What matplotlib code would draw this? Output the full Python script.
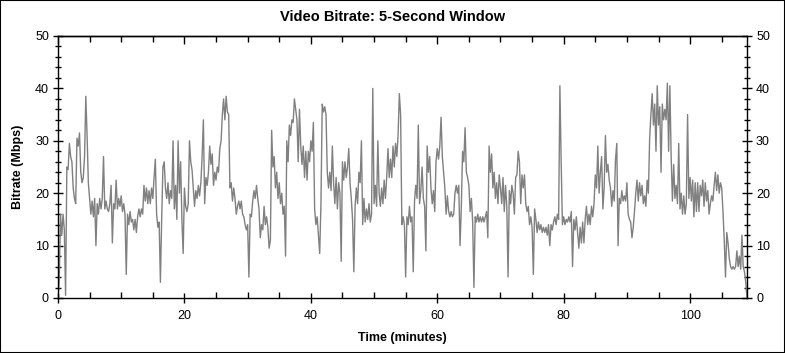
import numpy as np
import matplotlib
matplotlib.use("Agg")
import matplotlib.pyplot as plt
from matplotlib.patches import Rectangle
from matplotlib.ticker import MultipleLocator

plt.rcParams['font.family'] = ['Liberation Sans', 'DejaVu Sans']

title = "Video Bitrate: 5-Second Window"
x_label = "Time (minutes)"
y_label = "Bitrate (Mbps)"
sample_step_min = 0.2
duration_min = 109
x_ticks = [0, 20, 40, 60, 80, 100]
y_ticks = [0, 10, 20, 30, 40, 50]

# bitrate (Mbps), one value every 0.2 minutes
bitrate = [
    0, 3.5, 16, 12, 16,
    13, 0.5, 25, 24.5, 29.5,
    27, 26, 21, 19, 18,
    30.5, 29, 31.5, 24, 22,
    23, 27, 38.5, 31, 22,
    19, 16, 18.5, 15.5, 19,
    10, 18, 16, 19, 17,
    19, 27, 17, 18.5, 17,
    16.5, 18, 21.5, 10.5, 18,
    17, 22.5, 17, 19, 17.5,
    19.5, 16.5, 18, 16, 4.5,
    16, 14, 16.5, 14.5, 15,
    13, 15, 12.5, 15.5, 17,
    15.5, 17, 16, 21.5, 18.5,
    21, 18, 20.5, 18, 21,
    19, 23, 26.5, 16, 13.5,
    14.5, 3, 15, 25, 26,
    21, 19, 22, 18, 20.5,
    19, 30, 17, 21.5, 15,
    30, 20, 26, 15, 8.5,
    21, 17.5, 16.5, 18, 30,
    26, 24.5, 21, 17.5, 20.5,
    19, 21.5, 19.5, 22, 27,
    34, 18, 23, 21.5, 24,
    29, 25.5, 27.5, 21.5, 24,
    22.5, 25, 24, 28.5, 30,
    35, 38, 34, 38.5, 35.5,
    35, 21, 22, 18.5, 21,
    19, 16, 17.5, 18.5, 17,
    18.5, 16, 15.5, 14, 13,
    14, 4, 16, 15.5, 18.5,
    20.5, 19, 21.5, 19, 17,
    11.5, 14, 13, 17.5, 14,
    15.5, 13.5, 9.5, 11, 32,
    25, 27, 21, 24, 19,
    22, 18, 20, 16, 17.5,
    8, 30, 26, 33, 31,
    34, 33.5, 38, 36, 34,
    26, 36, 29, 25.5, 29,
    23, 28, 22.5, 28, 26,
    30, 28, 33.5, 17, 14,
    15.5, 12, 8.5, 18, 37,
    35.5, 36.5, 35, 24, 21,
    24, 20.5, 29, 22, 18,
    23, 17, 22, 20, 7,
    26, 22.5, 26, 23, 25,
    28.5, 22, 19, 15, 5,
    17.5, 21, 18, 24, 22,
    30, 14, 19, 14.5, 17,
    15, 18, 14.5, 16, 40,
    18, 21.5, 17.5, 30, 20,
    17.5, 21, 18, 22.5, 19,
    23, 28.5, 23, 26.5, 23,
    29, 25, 29.5, 27, 31,
    39, 35, 14, 15.5, 14,
    4, 15.5, 14, 17.5, 14.5,
    15.5, 5, 18.5, 21.5, 19,
    33, 18, 20.5, 25, 19,
    17.5, 9, 29, 24, 27,
    21, 18, 20.5, 16.5, 26,
    28.5, 26.5, 29, 34.5, 27,
    24, 21, 16, 19.5, 16.5,
    15.5, 16.5, 15.5, 16, 20,
    21.5, 20, 21.5, 10, 17,
    28, 26, 32.5, 24, 23,
    21.5, 16.5, 19, 14.5, 2,
    15.5, 14.5, 16, 14.5, 15.5,
    14.5, 15.5, 14.5, 15.5, 16.5,
    11.5, 29, 24, 27.5, 21,
    24, 19, 22, 18, 23.5,
    21, 18, 23, 16.5, 21.5,
    17.5, 4, 20.5, 18, 21.5,
    20, 16, 23, 23.5, 28,
    26, 18, 23.5, 21, 23.5,
    18, 16.5, 17.5, 14, 15.5,
    13.5, 4.5, 17, 15, 12.5,
    14.5, 13, 14, 12.5, 13.5,
    12.5, 13.5, 12, 14, 10,
    14, 13, 14.5, 15.5, 14,
    16, 15, 40.5, 26, 14,
    15.5, 14, 15, 14.5, 15.5,
    14.5, 16.5, 6, 15, 13,
    15.5, 12.5, 9.5, 13.5, 10.5,
    14.5, 10.5, 15, 17.5, 14,
    16, 14, 17.5, 15.5, 18,
    23.5, 21, 29, 20, 24,
    27, 17, 21, 31, 24,
    25.5, 22.5, 21, 17.5, 20.5,
    18.5, 26.5, 29.5, 10, 19,
    18, 20.5, 18.5, 19.5, 18.5,
    22, 16, 15, 14.5, 11.5,
    13.5, 16.5, 20, 22.5, 18.5,
    22, 19.5, 21.5, 18, 19.5,
    17.5, 22.5, 20, 30.5, 35,
    39, 33, 37, 28, 40.5,
    33, 36.5, 24, 37, 34,
    36, 34, 41, 28, 40.5,
    27, 18.5, 25.5, 19, 21.5,
    18, 29.5, 17, 20, 16,
    19.5, 16, 18, 35, 19,
    23, 18.5, 22.5, 15.5, 22,
    16.5, 22, 16.5, 21.5, 19.5,
    22.5, 17.5, 22, 18.5, 20.5,
    16, 18, 19.5, 18.5, 21.5,
    24, 20.5, 23.5, 20, 22,
    21, 16.5, 11, 4, 12.5,
    10.5, 7.5, 6, 5.5, 6,
    5.5, 6, 9, 6, 8,
    5.5, 12, 6, 5, 3,
    0,
]

time_min = np.arange(len(bitrate)) * sample_step_min

fig = plt.figure(figsize=(7.85, 3.53), dpi=100)
fig.patch.set_facecolor('white')
ax = fig.add_axes([58/785, 1 - 298/353, (747 - 58)/785, (298 - 36)/353])

ax.plot(time_min, bitrate, color='#808080', lw=1.0)

ax.set_xlim(0, duration_min)
ax.set_ylim(0, 50)
ax.set_xticks(x_ticks)
ax.set_yticks(y_ticks)
ax.xaxis.set_minor_locator(MultipleLocator(5))
ax.yaxis.set_minor_locator(MultipleLocator(2))

for s in ax.spines.values():
    s.set_linewidth(1.0)
    s.set_color('black')

ax.tick_params(axis='x', which='major', direction='inout', length=7, width=1,
               labelsize=9, pad=5, top=False)
ax.tick_params(axis='x', which='minor', direction='in', length=4, width=1, top=False)
ax.tick_params(axis='y', which='major', direction='inout', length=7, width=1,
               labelsize=9, right=True, labelright=True, pad=3)
ax.tick_params(axis='y', which='minor', direction='inout', length=5, width=1, right=True)

top = ax.secondary_xaxis('top')
top.set_xticks(x_ticks)
top.xaxis.set_minor_locator(MultipleLocator(5))
top.tick_params(axis='x', which='major', direction='in', length=6, width=1, labeltop=False)
top.tick_params(axis='x', which='minor', direction='in', length=4, width=1)
top.spines['top'].set_linewidth(1.0)

ax.set_xlabel(x_label, fontsize=9, fontweight='bold', labelpad=7)
ax.set_ylabel(y_label, fontsize=9, fontweight='bold', labelpad=8)
fig.text(0.5, 1 - 17/353, title, ha='center', va='center', fontsize=10.5, fontweight='bold')

fig.add_artist(Rectangle((0, 0), 1, 1, transform=fig.transFigure, fill=False,
                         edgecolor='black', lw=1.5))

fig.savefig('out.png', dpi=100, facecolor='white')
